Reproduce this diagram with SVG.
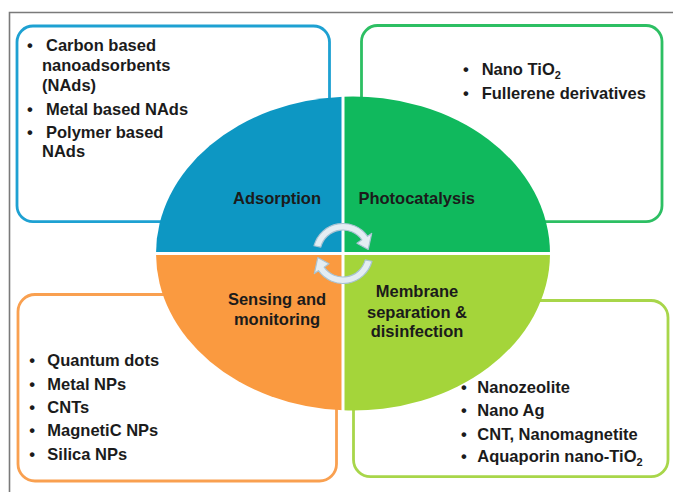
<svg xmlns="http://www.w3.org/2000/svg" width="673" height="492" viewBox="0 0 673 492">
<defs>
<style>
.t{font-family:"Liberation Sans",Arial,sans-serif;font-weight:bold;font-size:16.5px;fill:#1b1b1b}
.c{text-anchor:middle}
.box{fill:#fff;stroke-width:2.8}
.sub{font-size:11px}
.arr{fill:#e4edf3;stroke:#a9c3d3;stroke-width:1.2;stroke-linejoin:round}
</style>
</defs>
<rect width="673" height="492" fill="#fff"/>
<path d="M9.5,492 V12.5 H673" fill="none" stroke="#7a7a7a" stroke-width="1.6"/>

<g id="box-adsorption">
<rect class="box" x="17" y="26" width="312.5" height="195.7" rx="16" stroke="#1ea1d2"/>
<text class="t"><tspan x="27" y="50.5">•</tspan><tspan x="46" y="50.5">Carbon based</tspan><tspan x="42" y="71">nanoadsorbents</tspan><tspan x="42" y="90.5">(NAds)</tspan><tspan x="27" y="114.5">•</tspan><tspan x="46" y="114.5">Metal based NAds</tspan><tspan x="27" y="137.7">•</tspan><tspan x="46" y="137.7">Polymer based</tspan><tspan x="42" y="157">NAds</tspan></text>
</g>

<g id="box-photocatalysis">
<rect class="box" x="361.5" y="25.5" width="300.5" height="196.2" rx="16" stroke="#2dbf63"/>
<text class="t"><tspan x="463" y="74.5">•</tspan><tspan x="481.7" y="74.5">Nano TiO</tspan><tspan class="sub" dy="4">2</tspan></text>
<text class="t"><tspan x="463" y="98.5">•</tspan><tspan x="481.7" y="98.5">Fullerene derivatives</tspan></text>
</g>

<g id="box-sensing">
<rect class="box" x="18" y="294.5" width="318.5" height="186.5" rx="17" stroke="#f9a050"/>
<text class="t"><tspan x="29.3" y="366">•</tspan><tspan x="47.3" y="366">Quantum dots</tspan><tspan x="29.3" y="389.5">•</tspan><tspan x="47.3" y="389.5">Metal NPs</tspan><tspan x="29.3" y="413">•</tspan><tspan x="47.3" y="413">CNTs</tspan><tspan x="29.3" y="436">•</tspan><tspan x="47.3" y="436">MagnetiC NPs</tspan><tspan x="29.3" y="459.5">•</tspan><tspan x="47.3" y="459.5">Silica NPs</tspan></text>
</g>

<g id="box-membrane">
<rect class="box" x="353.5" y="300.5" width="314.5" height="176.2" rx="17" stroke="#a8d64a"/>
<text class="t"><tspan x="461" y="393">•</tspan><tspan x="477.3" y="393">Nanozeolite</tspan><tspan x="461" y="416">•</tspan><tspan x="477.3" y="416">Nano Ag</tspan><tspan x="461" y="439.5">•</tspan><tspan x="477.3" y="439.5">CNT, Nanomagnetite</tspan></text>
<text class="t"><tspan x="461" y="461.5">•</tspan><tspan x="477.3" y="461.5">Aquaporin nano-TiO</tspan><tspan class="sub" dy="4">2</tspan></text>
</g>

<g id="quad-adsorption">
<path d="M343,253.5 L156,253.5 A197,157 0 0 1 343,96.7 Z" fill="#0d97c3"/>
<text class="t c" x="277" y="204">Adsorption</text>
</g>
<g id="quad-photocatalysis">
<path d="M343,253.5 L343,96.7 A197,157 0 0 1 550,253.5 Z" fill="#10b95d"/>
<text class="t c" x="416.7" y="204">Photocatalysis</text>
</g>
<g id="quad-membrane">
<path d="M343,253.5 L550,253.5 A197,157 0 0 1 343,410.3 Z" fill="#a4d53a"/>
<text class="t c" x="417" y="296.5">Membrane</text>
<text class="t c" x="417" y="318">separation &amp;</text>
<text class="t c" x="417" y="336.5">disinfection</text>
</g>
<g id="quad-sensing">
<path d="M343,253.5 L343,410.3 A197,157 0 0 1 156,253.5 Z" fill="#fa9a40"/>
<text class="t c" x="277" y="304.5">Sensing and</text>
<text class="t c" x="277" y="324.5">monitoring</text>
</g>
<path d="M343,90 V416 M150,253.5 H556" stroke="#fff" stroke-width="3" fill="none"/>

<g id="connectors">
<path id="arrow-top" class="arr" d="M314.02,245.74 A30,30 0 0 1 367.57,236.29 L371.67,233.42 L368.25,249.45 L356.93,243.25 L361.84,239.81 A23,23 0 0 0 320.78,247.05 Z"/>
<path id="arrow-bottom" class="arr" transform="rotate(180 343 253.5)" d="M314.02,245.74 A30,30 0 0 1 367.57,236.29 L371.67,233.42 L368.25,249.45 L356.93,243.25 L361.84,239.81 A23,23 0 0 0 320.78,247.05 Z"/>
</g>
</svg>
